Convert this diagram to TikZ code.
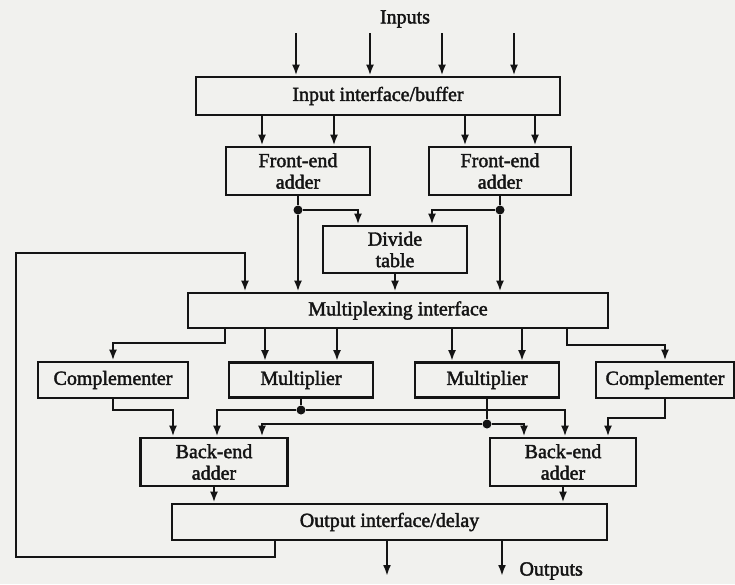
\documentclass[tikz,border=0pt]{standalone}
\usepackage{fontspec}
\setmainfont{Liberation Serif}[FakeBold=2]
\usetikzlibrary{arrows.meta}
\definecolor{paper}{RGB}{241,241,238}
\definecolor{ink}{RGB}{20,20,20}
\begin{document}
\begin{tikzpicture}[x=1pt,y=-1pt,
  font=\fontsize{20}{21.5}\selectfont,
  box/.style={draw=ink,line width=2.8pt,align=center,inner sep=2pt,text=ink},
  wire/.style={draw=ink,line width=2.8pt},
  arr/.style={wire,-{Latex[length=11pt,width=8pt]}},
  dot/.style={circle,fill=ink,inner sep=0pt,minimum size=9pt}]
\fill[paper] (0,0) rectangle (735,584);
\useasboundingbox (0,0) rectangle (735,584);

% blocks
\node[box,minimum width=364pt,minimum height=38pt] (buf) at (378,96) {Input interface/buffer};
\node[box,minimum width=144pt,minimum height=48pt] (fe1) at (298,171) {Front-end\\adder};
\node[box,minimum width=142pt,minimum height=48pt] (fe2) at (500,171) {Front-end\\adder};
\node[box,minimum width=144pt,minimum height=47pt] (dt) at (395,249.5) {Divide\\table};
\node[box,minimum width=420pt,minimum height=35pt] (mux) at (398,310.5) {Multiplexing interface};
\node[box,minimum width=150pt,minimum height=36pt] (cm1) at (113,380) {Complementer};
\node[box,minimum width=144pt,minimum height=35pt] (mu1) at (301,380) {Multiplier};
\node[box,minimum width=144pt,minimum height=35pt] (mu2) at (487,380) {Multiplier};
\node[box,minimum width=138pt,minimum height=36pt] (cm2) at (665,380) {Complementer};
\node[box,minimum width=147pt,minimum height=48pt] (be1) at (214,462) {Back-end\\adder};
\node[box,minimum width=146pt,minimum height=48pt] (be2) at (563,462) {Back-end\\adder};
\node[box,minimum width=435pt,minimum height=36pt] (out) at (389.5,522) {Output interface/delay};

% labels
\node[text=ink] (inl) at (405,19) {Inputs};
\node[text=ink,anchor=west] (outl) at (516,571) {Outputs};

% inputs
\coordinate (i1) at (296,33);
\coordinate (i2) at (370,33);
\coordinate (i3) at (442,33);
\coordinate (i4) at (514,33);
\foreach \c in {i1,i2,i3,i4}
  \draw[arr] (\c) -- (\c |- buf.north);

% buffer to front-end adders
\foreach \n/\s in {fe1/-36,fe1/36,fe2/-35,fe2/35}
  \draw[arr] ([xshift=\s pt]\n.north |- buf.south) -- ([xshift=\s pt]\n.north);

% front-end outputs, split to the divide table
\node[dot] (j1) at (298,210) {};
\node[dot] (j2) at (500,210) {};
\draw[wire] (fe1.south) -- (j1);
\draw[wire] (fe2.south) -- (j2);
\draw[arr] (j1) -- (j1 |- mux.north);
\draw[arr] (j2) -- (j2 |- mux.north);
\draw[arr] (j1) -| ([xshift=-37pt]dt.north);
\draw[arr] (j2) -| ([xshift=37pt]dt.north);
\draw[arr] (dt.south) -- (dt.south |- mux.north);

% feedback from the output interface
\coordinate (fb1) at (16,557);
\coordinate (fb2) at (16,253);
\draw[arr] ([xshift=-114.5pt]out.south) |- (fb1) -- (fb2) -| ([xshift=-153pt]mux.north);

% multiplexing interface to the arithmetic units
\coordinate (e1) at (113,343);
\coordinate (e2) at (665,345);
\draw[arr] ([xshift=-173pt]mux.south) |- (e1) -- (cm1.north);
\draw[arr] ([xshift=169pt]mux.south) |- (e2) -- (cm2.north);
\foreach \n/\s in {mu1/-36,mu1/36,mu2/-35,mu2/35}
  \draw[arr] ([xshift=\s pt]\n.north |- mux.south) -- ([xshift=\s pt]\n.north);

% units to back-end adders
\coordinate (e3) at (173,410);
\coordinate (e4) at (608,418);
\draw[arr] (cm1.south) |- (e3) -- ([xshift=-41pt]be1.north);
\draw[arr] (cm2.south) |- (e4) -- ([xshift=45pt]be2.north);
\node[dot] (j3) at (301,410) {};
\node[dot] (j4) at (487,424) {};
\draw[wire] (mu1.south) -- (j3);
\draw[wire] (mu2.south) -- (j4);
\draw[arr] (j3) -| ([xshift=3pt]be1.north);
\draw[arr] (j3) -| ([xshift=2pt]be2.north);
\draw[arr] (j4) -| ([xshift=48pt]be1.north);
\draw[arr] (j4) -| ([xshift=-39pt]be2.north);

% back-end adders to output interface
\draw[arr] (be1.south) -- (be1.south |- out.north);
\draw[arr] (be2.south) -- (be2.south |- out.north);

% outputs
\coordinate (o1) at (387,576);
\coordinate (o2) at (502,576);
\draw[arr] (o1 |- out.south) -- (o1);
\draw[arr] (o2 |- out.south) -- (o2);
\end{tikzpicture}
\end{document}
